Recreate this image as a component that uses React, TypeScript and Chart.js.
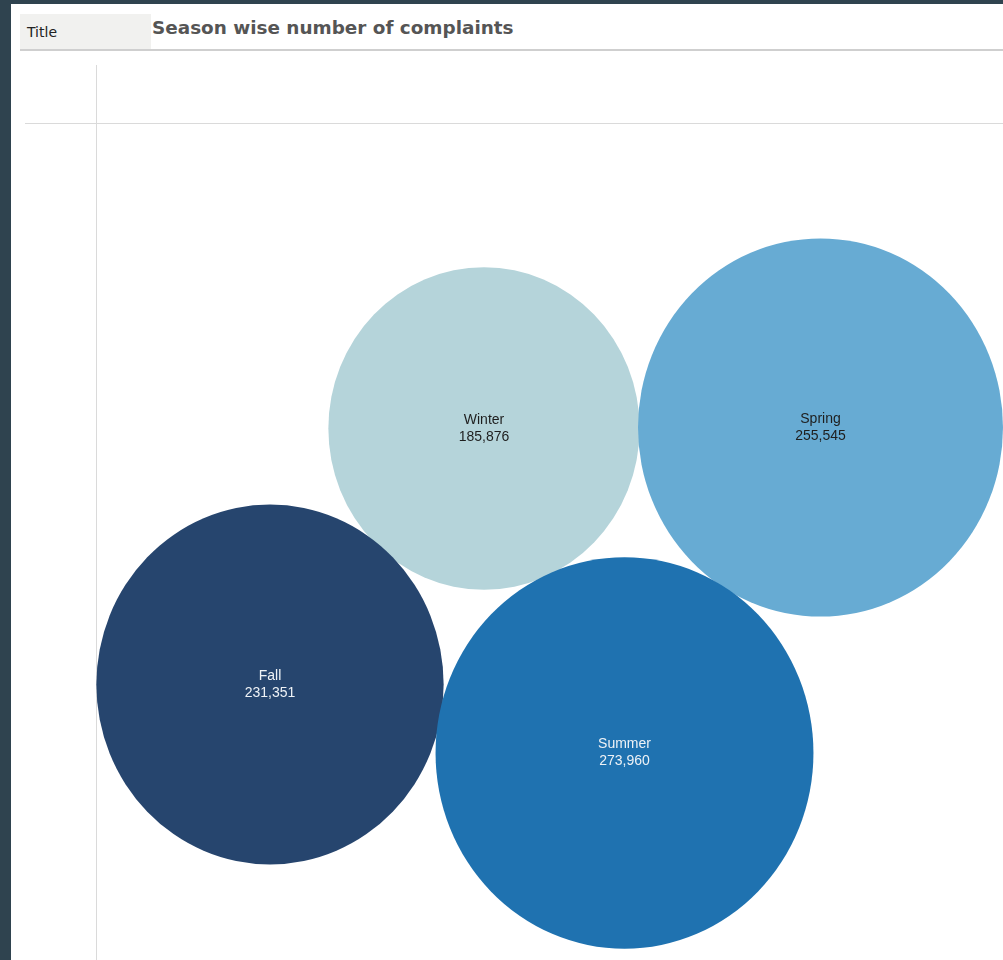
import React, { useEffect, useRef } from "react";
import { Chart, registerables } from "chart.js";

Chart.register(...registerables);

const seasons = ["Winter", "Spring", "Fall", "Summer"];
const complaints = [185876, 255545, 231351, 273960];
const colors = ["#b5d4da", "#67abd3", "#26456e", "#1f72b0"];
const labelColors = ["#1e1e1e", "#1e1e1e", "#eef2f6", "#eef2f6"];
// packed-bubble layout positions (layout units)
const bubbleX = [484, 820.5, 270, 624.5];
const bubbleY = [428.5, 427.5, 684.5, 753];
const radiusPerSqrt = 0.361;
const verticalStretch = 1.036;

const W = 1003;
const H = 960;

const ellipsePlugin = {
  id: "ellipseBubbles",
  beforeDatasetDraw(chart: any, args: any) {
    const ctx = chart.ctx;
    const meta = args.meta;
    ctx.save();
    meta.data.forEach((el: any, i: number) => {
      const r = el.options.radius;
      ctx.beginPath();
      ctx.ellipse(el.x, el.y, r, r * verticalStretch, 0, 0, Math.PI * 2);
      ctx.fillStyle = colors[i];
      ctx.fill();
    });
    ctx.restore();
    return false;
  },
  afterDatasetsDraw(chart: any) {
    const ctx = chart.ctx;
    const meta = chart.getDatasetMeta(0);
    ctx.save();
    ctx.font = "14px 'Liberation Sans', Arial, sans-serif";
    ctx.textAlign = "center";
    ctx.textBaseline = "middle";
    meta.data.forEach((el: any, i: number) => {
      ctx.fillStyle = labelColors[i];
      ctx.fillText(seasons[i], el.x, el.y - 8.5);
      ctx.fillText(complaints[i].toLocaleString("en-US"), el.x, el.y + 8.5);
    });
    ctx.restore();
  },
};

export default function App() {
  const ref = useRef<HTMLCanvasElement>(null);
  useEffect(() => {
    if (!ref.current) return;
    const chart = new Chart(ref.current, {
      type: "bubble",
      data: {
        datasets: [
          {
            label: "Complaints",
            data: complaints.map((v, i) => ({
              x: bubbleX[i],
              y: bubbleY[i],
              r: radiusPerSqrt * Math.sqrt(v),
            })),
            backgroundColor: colors,
            borderWidth: 0,
            hoverBorderWidth: 0,
            clip: false as any,
          },
        ],
      },
      options: {
        responsive: false,
        animation: false,
        layout: { padding: 0, autoPadding: false },
        plugins: {
          legend: { display: false },
          tooltip: { enabled: false },
          title: { display: false },
        },
        scales: {
          x: { type: "linear", min: 0, max: W, display: false },
          y: { type: "linear", min: 0, max: H, reverse: true, display: false },
        },
      },
      plugins: [ellipsePlugin],
    });
    return () => chart.destroy();
  }, []);

  return (
    <div
      style={{
        position: "fixed",
        left: 0,
        top: 0,
        width: W,
        height: H,
        background: "#2f434f",
        overflow: "hidden",
      }}
    >
      <div
        style={{
          position: "absolute",
          left: 11,
          top: 4,
          width: W - 11,
          height: H - 4,
          background: "#ffffff",
        }}
      />
      <div
        style={{
          position: "absolute",
          left: 20,
          top: 14,
          width: 131,
          height: 35,
          background: "#f1f1ef",
          fontFamily: "'DejaVu Sans', Tahoma, sans-serif",
          fontSize: 14,
          color: "#222",
          lineHeight: "36px",
          paddingLeft: 7,
          boxSizing: "border-box",
        }}
      >
        Title
      </div>
      <div
        style={{
          position: "absolute",
          left: 152,
          top: 13,
          height: 30,
          fontFamily: "'DejaVu Sans', Tahoma, sans-serif",
          fontWeight: "bold",
          fontSize: 18.4,
          color: "#555555",
          lineHeight: "30px",
          whiteSpace: "nowrap",
        }}
      >
        Season wise number of complaints
      </div>
      <div style={{ position: "absolute", left: 20, top: 49, width: W - 20, height: 2, background: "#cfcfcf" }} />
      <div style={{ position: "absolute", left: 96, top: 65, width: 1, height: H - 65, background: "#dadada" }} />
      <div style={{ position: "absolute", left: 25, top: 123, width: W - 25, height: 1, background: "#dadada" }} />
      <canvas
        ref={ref}
        width={W}
        height={H}
        style={{ position: "absolute", left: 0, top: 0, width: W, height: H }}
      />
    </div>
  );
}
